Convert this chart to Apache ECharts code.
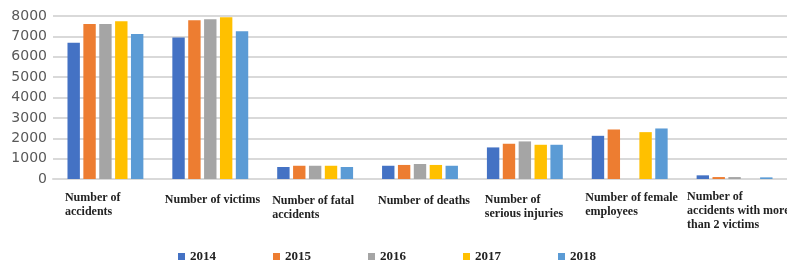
<!DOCTYPE html>
<html>
<head>
<meta charset="utf-8">
<script src="https://cdn.jsdelivr.net/npm/echarts@6/dist/echarts.min.js"></script>
<style>
  html, body { margin: 0; padding: 0; background: #fff; }
  #chart { width: 787px; height: 263px; }
</style>
</head>
<body>
<div id="chart"></div>
<script>
// categories and yearly values
const categories = [
  "Number of\naccidents",
  "Number of victims",
  "Number of fatal\naccidents",
  "Number of deaths",
  "Number of\nserious injuries",
  "Number of female\nemployees",
  "Number of\naccidents with more\nthan 2 victims",
];
const years = ["2014", "2015", "2016", "2017", "2018"];
const values2014 = [6690, 6940, 590, 650, 1550, 2120, 180];
const values2015 = [7610, 7790, 650, 690, 1730, 2430, 95];
const values2016 = [7610, 7840, 650, 735, 1845, 0, 95];
const values2017 = [7740, 7935, 650, 690, 1680, 2300, 0];
const values2018 = [7120, 7250, 590, 650, 1680, 2480, 80];
const yTicks = { min: 0, max: 8000, step: 1000 };

const colors = ["#4472C4", "#ED7D31", "#A5A5A5", "#FFC000", "#5B9BD5"];
const allValues = [values2014, values2015, values2016, values2017, values2018];

// the labels in the original sit a little unevenly; nudge each one
const labelBoxWidth = [81, 91, 86, 84, 80, 89, 95];
const labelDrop = [1, 3.5, 4, 4.5, 3, 1, 0];

const labelRich = {};
labelBoxWidth.forEach((w, i) => {
  labelRich["c" + i] = {
    width: w,
    align: "left",
    fontFamily: "Liberation Serif",
    fontWeight: "bold",
    fontSize: 12,
    lineHeight: 14,
    color: "#222",
  };
});

const chart = echarts.init(document.getElementById("chart"));

const option = {
  animation: false,
  color: colors,
  grid: { left: 53, right: 0, top: 16, bottom: 84, outerBoundsMode: "none" },
  legend: {
    data: years,
    left: 178,
    top: 250,
    padding: 0,
    icon: "rect",
    itemWidth: 7,
    itemHeight: 7,
    itemGap: 57,
    textStyle: {
      fontFamily: "Liberation Serif",
      fontWeight: "bold",
      fontSize: 13,
      color: "#222",
    },
  },
  xAxis: {
    type: "category",
    data: categories.map((c, i) => ({
      value: c,
      textStyle: { padding: [labelDrop[i], 0, 0, 0] },
    })),
    axisTick: { show: false },
    axisLine: { lineStyle: { color: "#d9d9d9", width: 2 } },
    axisLabel: {
      interval: 0,
      margin: 10.5,
      formatter: (v, idx) =>
        v.split("\n").map((s) => "{c" + idx + "|" + s + "}").join("\n"),
      rich: labelRich,
    },
  },
  yAxis: {
    type: "value",
    min: yTicks.min,
    max: yTicks.max,
    interval: yTicks.step,
    axisLine: { show: false },
    axisTick: { show: false },
    splitLine: { lineStyle: { color: "#d9d9d9", width: 2 } },
    axisLabel: {
      margin: 6,
      formatter: (v) => String(v),
      fontFamily: "DejaVu Sans",
      fontSize: 14,
      color: "#595959",
    },
  },
  series: years.map((y, i) => ({
    name: y,
    type: "bar",
    data: allValues[i],
    barWidth: 12.4,
    barGap: "28%",
  })),
};

chart.setOption(option);
</script>
</body>
</html>
